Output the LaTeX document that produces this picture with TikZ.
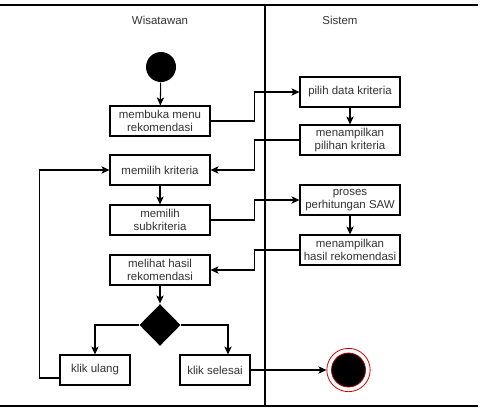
\documentclass[tikz,border=0pt]{standalone}
\usepackage{fontspec}
\setmainfont{Liberation Sans}
\usetikzlibrary{arrows.meta,shapes.geometric}

\begin{document}
\begin{tikzpicture}
        [x=0.75pt,y=-0.75pt,line width=0.8pt,>={Stealth[length=6pt,width=5.5pt,inset=1.5pt]},
         every node/.style={font=\fontsize{8.6}{10}\selectfont,text=black!80},
         act/.style={draw=black,rectangle,minimum width=75pt,minimum height=22.5pt,inner sep=1pt,align=center},
         klik/.style={act,minimum width=52.5pt},
         lane/.style={line width=1.1pt}]
        \useasboundingbox (0,0) rectangle (481,412);

        % swimlanes
        \draw[lane] (0,5) -- (478,5);
        \draw[lane] (0,406) -- (478,406);
        \draw (265,5) -- (265,405);
        \node (wisatawan) at (160,20) {Wisatawan};
        \node (sistem) at (340,20) {Sistem};

        \node (start) at (161,67) [circle,fill=black,minimum size=22.5pt,inner sep=0pt] {};
        \node (membuka) at (160,121) [act] {membuka menu\\rekomendasi};
        \node (pilih) at (350,92) [act] {pilih data kriteria};
        \node (tampil) at (350,140) [act] {menampilkan\\pilihan kriteria};
        \node (kriteria) at (160,170) [act] {memilih kriteria};
        \node (subkrit) at (160,220) [act] {memilih\\subkriteria};
        \node (proses) at (350,200) [act] {proses\\perhitungan SAW};
        \node (hasil) at (350,250) [act] {menampilkan\\hasil rekomendasi};
        \node (melihat) at (160,270) [act] {melihat hasil\\rekomendasi};
        \node (pilihan) at (160,325) [diamond,fill=black,minimum width=31pt,minimum height=31.5pt,inner sep=0pt] {};
        \node (ulang) at (95,370) [klik] {klik ulang};
        \node (selesai) at (215,370) [klik] {klik selesai};
        \node (akhir) at (348.5,370) [circle,draw=red!85!black,line width=0.6pt,minimum size=32.5pt,inner sep=0pt] {};
        \node (akhirdot) at (348.5,370) [circle,fill=black,draw=red!70!black,line width=0.6pt,minimum size=25.5pt,inner sep=0pt] {};

        \draw[->] (start) -- (membuka);
        \draw[->] (membuka.east) -- ++(44,0) |- (pilih.west);
        \draw[->] (pilih) -- (tampil);
        \draw[->] (tampil.west) -- ++(-45,0) |- (kriteria.east);
        \draw[->] (kriteria) -- (subkrit);
        \draw[->] (subkrit.east) -- ++(44,0) |- (proses.west);
        \draw[->] (proses) -- (hasil);
        \draw[->] (hasil.west) -- ++(-45,0) |- (melihat.east);
        \draw[->] (melihat) -- (pilihan);
        \draw[->] (pilihan.west) -| (ulang.north);
        \draw[->] (pilihan.east) -| ([xshift=9.75pt]selesai.north);
        \draw[->] ([yshift=-6pt]ulang.west) -- ++(-20,0) |- (kriteria.west);
        \draw[->] (selesai.east) -- (akhir.west);

    \end{tikzpicture}
\end{document}
